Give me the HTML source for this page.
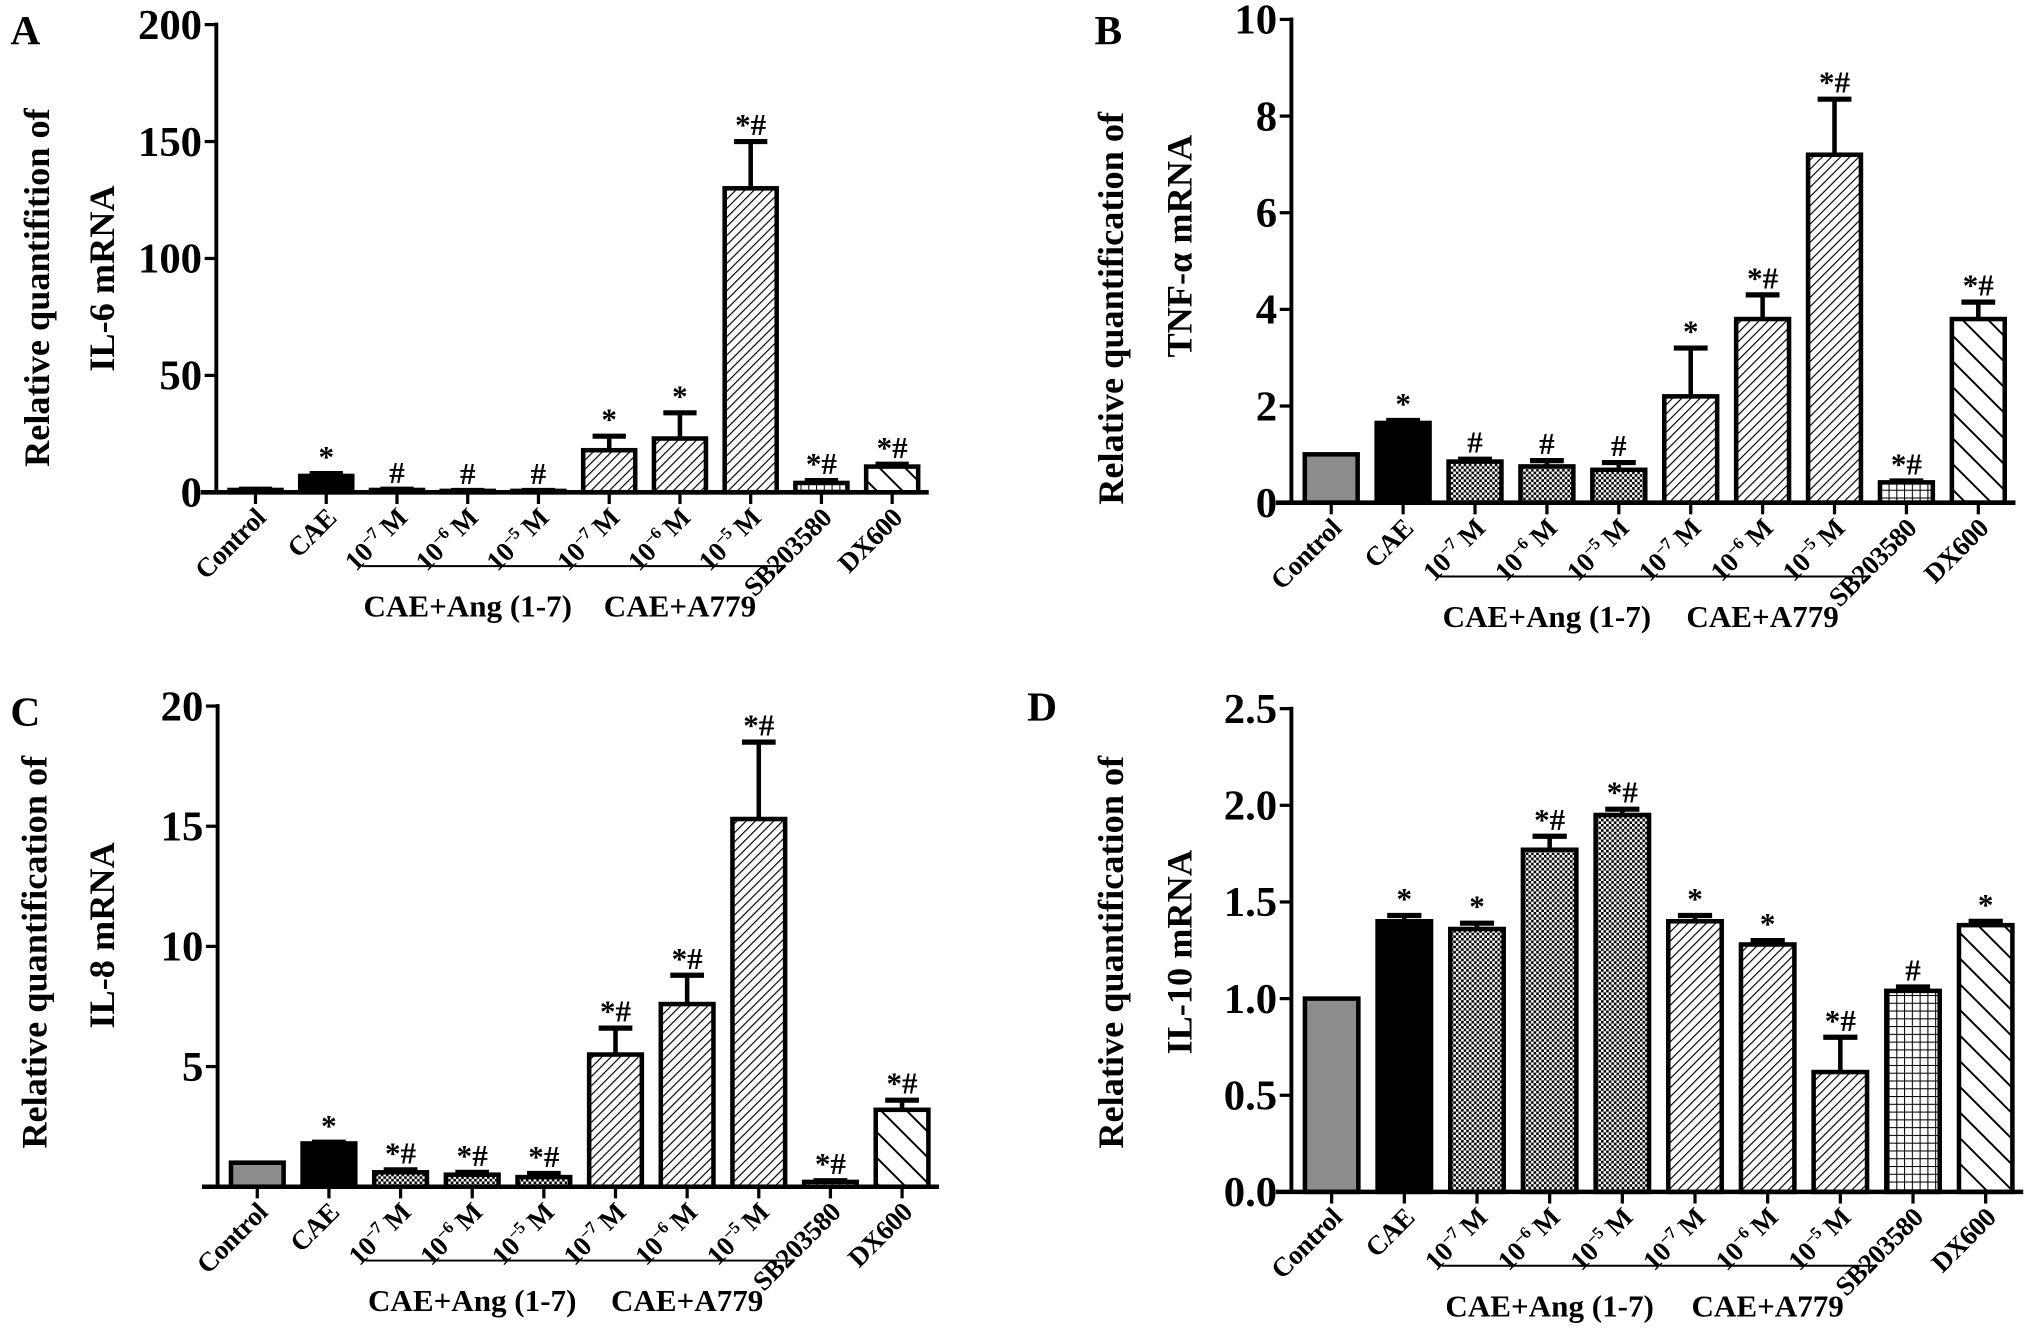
<!DOCTYPE html>
<html><head><meta charset="utf-8"><style>
html,body{margin:0;padding:0;background:#fff;}
svg{display:block;font-family:"Liberation Serif",serif;}
</style></head><body>
<svg id="fig" xmlns="http://www.w3.org/2000/svg" width="2031" height="1337" viewBox="0 0 1568 1032" preserveAspectRatio="none">
<defs>
<pattern id="pGray" patternUnits="userSpaceOnUse" width="4" height="4"><rect width="4" height="4" fill="#8c8c8c"/></pattern>
<pattern id="pCheck" patternUnits="userSpaceOnUse" width="4" height="4"><rect width="4" height="4" fill="#fff"/><rect width="2" height="2" fill="#000"/><rect x="2" y="2" width="2" height="2" fill="#000"/></pattern>
<pattern id="pHatch" patternUnits="userSpaceOnUse" width="5" height="5" patternTransform="rotate(45)"><rect width="5" height="5" fill="#fff"/><line x1="0" y1="0" x2="0" y2="5" stroke="#000" stroke-width="1.8"/></pattern>
<pattern id="pGrid" patternUnits="userSpaceOnUse" width="6" height="6"><rect width="6" height="6" fill="#fff"/><line x1="0" y1="0" x2="6" y2="0" stroke="#000" stroke-width="1.6"/><line x1="0" y1="0" x2="0" y2="6" stroke="#000" stroke-width="1.6"/></pattern>
<pattern id="pWide" patternUnits="userSpaceOnUse" width="14" height="14" patternTransform="rotate(-45)"><rect width="14" height="14" fill="#fff"/><line x1="0" y1="0" x2="0" y2="14" stroke="#000" stroke-width="3"/></pattern>
</defs>
</svg>
<script>
// ----- data -----
const categories = ["Control","CAE","10-7","10-6","10-5","10-7","10-6","10-5","SB203580","DX600"];
const valuesA = [1, 7, 1, 0.6, 0.6, 18, 23, 130, 4, 11];
const errorsA = [0.3, 1, 0.3, 0.2, 0.2, 6, 11, 20, 1, 1];
const marksA = ["","*","#","#","#","*","*","*#","*#","*#"];
const valuesB = [1, 1.65, 0.85, 0.75, 0.68, 2.2, 3.8, 7.2, 0.42, 3.8];
const errorsB = [0, 0.05, 0.05, 0.12, 0.15, 1.0, 0.5, 1.15, 0.03, 0.35];
const marksB = ["","*","#","#","#","*","*#","*#","*#","*#"];
const valuesC = [1, 1.8, 0.6, 0.5, 0.4, 5.5, 7.6, 15.3, 0.2, 3.2];
const errorsC = [0, 0.05, 0.1, 0.1, 0.15, 1.1, 1.2, 3.2, 0.05, 0.4];
const marksC = ["","*","*#","*#","*#","*#","*#","*#","*#","*#"];
const valuesD = [1.0, 1.40, 1.36, 1.77, 1.95, 1.40, 1.28, 0.62, 1.04, 1.38];
const errorsD = [0, 0.03, 0.03, 0.07, 0.03, 0.03, 0.02, 0.18, 0.02, 0.02];
const marksD = ["","*","*","*#","*#","*","*","*#","#","*"];
const ticksA = [0, 50, 100, 150, 200];
const ticksB = [0, 2, 4, 6, 8, 10];
const ticksC = [5, 10, 15, 20];
const ticksD = [0, 0.5, 1.0, 1.5, 2.0, 2.5];
const tickLabelsD = ["0.0","0.5","1.0","1.5","2.0","2.5"];
const fills = ["url(#pGray)","#000","url(#pCheck)","url(#pCheck)","url(#pCheck)","url(#pHatch)","url(#pHatch)","url(#pHatch)","url(#pGrid)","url(#pWide)"];

const NS = "http://www.w3.org/2000/svg";
const svg = document.getElementById('fig');
function mk(tag, attrs, parent, text){
  const e = document.createElementNS(NS, tag);
  for (const k in attrs) e.setAttribute(k, attrs[k]);
  if (text !== undefined) e.textContent = text;
  (parent||svg).appendChild(e);
  return e;
}

function panel(id, cfg){
  const g = mk('g', {});
  
  
  const {ox, y0, ytop, L, max, ticks, tickLabels, vals, errs, marks} = cfg;
  const yS = v => y0 - (v / max) * (y0 - ytop);
  const xS = i => ox + L * (0.055 + 0.0993 * i);
  const bw = L * 0.073;
  vals.forEach((v, i) => {
    const x = xS(i), yt = yS(v), ye = yS(v + errs[i]);
    if (errs[i] > 0) {
      const eb = mk('line', {x1:x, x2:x, y1:yt, y2:ye, stroke:'#000', 'stroke-width':3.5}, g);
      
      
      const cap = mk('line', {x1:x - bw*0.32, x2:x + bw*0.32, y1:ye, y2:ye, stroke:'#000', 'stroke-width':4}, g);
      
      
    }
    const r = mk('rect', {x:x - bw/2, y:yt, width:bw, height:Math.max(y0 - yt, 0.5), fill:fills[i], stroke:'#000', 'stroke-width':3.5}, g);
    
    
    if (marks[i]) {
      const t = mk('text', {x:x, y:ye - 5, 'text-anchor':'middle', 'font-size':24, 'font-weight':'bold'}, g, marks[i]);
      
      
    }
    mk('line', {x1:x, x2:x, y1:y0, y2:y0 + 9, stroke:'#000', 'stroke-width':2.5}, g);
    const lx = x + 9, ly = y0 + 21;
    const lab = mk('text', {x:lx, y:ly, 'text-anchor':'end', 'font-size':21, 'font-weight':'bold', 'letter-spacing':-0.4, transform:`rotate(-45 ${lx} ${ly})`}, g);
    
    
    const c = categories[i];
    if (c.startsWith('10')) {
      lab.appendChild(document.createTextNode('10'));
      mk('tspan', {'font-size':13, dy:-8}, lab, c.slice(2).replace('-', '\u2212'));
      mk('tspan', {dy:8}, lab, ' M');
    } else lab.textContent = c;
  });
  const ya = mk('line', {x1:ox, x2:ox, y1:ytop - 1.5, y2:y0, stroke:'#000', 'stroke-width':3}, g);
  
  
  const xa = mk('line', {x1:ox - 12, x2:ox + L, y1:y0, y2:y0, stroke:'#000', 'stroke-width':3.5}, g);
  
  
  ticks.forEach((t, k) => {
    const y = yS(t);
    mk('line', {x1:ox - 9, x2:ox, y1:y, y2:y, stroke:'#000', 'stroke-width':2.5}, g);
    const tl = mk('text', {x:ox - 11, y:y + 11, 'text-anchor':'end', 'font-size':33, 'font-weight':'bold'}, g, tickLabels ? tickLabels[k] : String(t));
    
    
  });
  const gl = [[2,4,'CAE+Ang (1-7)'],[5,7,'CAE+A779']];
  gl.forEach(([a,b,txt]) => {
    const x1 = xS(a) - 27, x2 = xS(b) + 27, ly = y0 + 57;
    mk('line', {x1:x1, x2:x2, y1:ly, y2:ly, stroke:'#000', 'stroke-width':1.5}, g);
    const t = mk('text', {x:(x1 + x2)/2, y:y0 + 96, 'text-anchor':'middle', 'font-size':24, 'font-weight':'bold'}, g, txt);
    
    
  });
  cfg.titles.forEach(([tx, ty, txt]) => {
    const t = mk('text', {x:tx, y:ty, 'text-anchor':'middle', 'font-size':28, 'font-weight':'bold'}, g, txt);
    t.setAttribute('transform', `rotate(-90 ${tx} ${ty})`);
    
    
  });
  const pl = mk('text', {x:cfg.letter[0], y:cfg.letter[1], 'font-size':32, 'font-weight':'bold'}, g, id);
  
  
}

panel('A', {ox:167, y0:380, ytop:19, L:550, max:200, ticks:ticksA, vals:valuesA, errs:errorsA, marks:marksA,
  titles:[[38,222,'Relative  quantifition of'],[88,215,'IL-6 mRNA']], letter:[8,34]});
panel('B', {ox:997, y0:388, ytop:15, L:559, max:10, ticks:ticksB, vals:valuesB, errs:errorsB, marks:marksB,
  titles:[[867,238,'Relative quantification of'],[920,190,'TNF-α mRNA']], letter:[845,34]});
panel('C', {ox:168, y0:916, ytop:545, L:557, max:20, ticks:ticksC, vals:valuesC, errs:errorsC, marks:marksC,
  titles:[[36,735,'Relative quantification of'],[88,722,'IL-8 mRNA']], letter:[8,560]});
panel('D', {ox:997, y0:920, ytop:547, L:565, max:2.5, ticks:ticksD, tickLabels:tickLabelsD, vals:valuesD, errs:errorsD, marks:marksD,
  titles:[[867,735,'Relative  quantification of'],[920,735,'IL-10 mRNA']], letter:[793,556]});
</script>
</body></html>
